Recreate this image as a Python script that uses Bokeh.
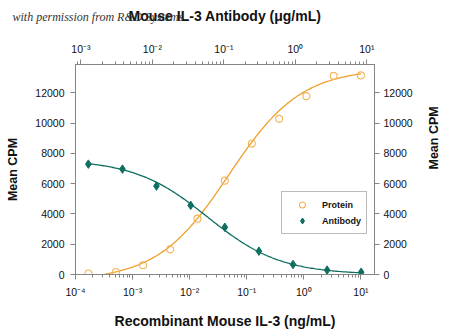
import math
import numpy as np
from bokeh.plotting import figure
from bokeh.models import (Range1d, LinearAxis, LogAxis, FixedTicker, CustomJSTickFormatter,
                          Legend, LegendItem, LogScale)
from bokeh.embed import file_html
from bokeh.resources import INLINE

# ---------------- data ----------------
protein_conc = [0.000169, 0.000508, 0.00152, 0.00457, 0.0137, 0.0412, 0.123, 0.370, 1.11, 3.33, 10.0]  # ng/mL
protein_cpm = [70, 170, 610, 1660, 3690, 6200, 8650, 10280, 11780, 13120, 13150]

antibody_conc = [0.00127, 0.00381, 0.0114, 0.0343, 0.103, 0.309, 0.926, 2.78, 8.33]  # ug/mL
antibody_cpm = [7290, 6960, 5840, 4570, 3120, 1540, 660, 290, 150]

# 4-parameter logistic fit parameters (estimated from the drawn curves)
protein_fit = dict(bottom=-400, top=13600, log_ec50=-1.31, hill=0.69)
antibody_fit = dict(bottom=0, top=7600, log_ec50=-1.23, hill=-0.85)

bottom_ticks = [1e-4, 1e-3, 1e-2, 1e-1, 1e0, 1e1]
top_ticks = [1e-3, 1e-2, 1e-1, 1e0, 1e1]
y_ticks = [0, 2000, 4000, 6000, 8000, 10000, 12000]

title_text = "Mouse IL-3 Antibody (μg/mL)"
x_label = "Recombinant Mouse IL-3 (ng/mL)"
y_label = "Mean CPM"
watermark = "with permission from R&D Systems"

ORANGE = "#EE9F2C"
ORANGE_PT = "#F4B458"
TEAL = "#0E6F61"
AXIS = "#858585"
FONT = "Liberation Sans"

X_LO, X_HI = 1e-4, 10 ** 1.238
Y_LO, Y_HI = 0, 13870


def four_pl(logx, bottom, top, log_ec50, hill):
    return bottom + (top - bottom) / (1.0 + 10 ** (hill * (log_ec50 - logx)))


def minor(lo, hi):
    return [m * 10.0 ** k for k in range(lo, hi) for m in range(2, 10)]


# ---------------- figure ----------------
p = figure(width=450, height=336, x_axis_type="log",
           x_range=Range1d(X_LO, X_HI), y_range=Range1d(Y_LO, Y_HI),
           output_backend="svg", toolbar_location=None,
           min_border_left=75, min_border_right=74, min_border_top=64, min_border_bottom=62,
           background_fill_color="white", border_fill_color="white")
p.grid.visible = False
p.outline_line_color = AXIS
p.outline_line_width = 1

p.extra_x_ranges = {"top": Range1d(10 ** -3.076, 10 ** 1.107)}
p.extra_x_scales = {"top": LogScale()}

sup_code = """
const e = Math.round(Math.log10(tick));
const sup = {'-':'\u207b','0':'\u2070','1':'\u00b9','2':'\u00b2','3':'\u00b3','4':'\u2074',
             '5':'\u2075','6':'\u2076','7':'\u2077','8':'\u2078','9':'\u2079'};
return '10' + String(e).split('').map(c => sup[c]).join('');
"""


def style_axis(ax):
    ax.axis_line_color = AXIS
    ax.major_tick_line_color = AXIS
    ax.minor_tick_line_color = AXIS
    ax.major_tick_in = 0
    ax.major_tick_out = 5
    ax.minor_tick_in = 0
    ax.minor_tick_out = 3
    ax.major_label_text_font = FONT
    ax.major_label_text_font_size = "10.5px"
    ax.major_label_text_color = "#111111"
    ax.axis_label_text_font = FONT
    ax.axis_label_text_font_style = "bold"
    ax.axis_label_text_font_size = "14px"
    ax.axis_label_text_color = "#111111"


# bottom axis
bx = p.xaxis[0]
style_axis(bx)
bx.ticker = FixedTicker(ticks=bottom_ticks, minor_ticks=minor(-4, 1))
bx.formatter = CustomJSTickFormatter(code=sup_code)
bx.axis_label = x_label
bx.major_label_standoff = 6
bx.axis_label_standoff = 12

# left axis
ly = p.yaxis[0]
style_axis(ly)
ly.ticker = FixedTicker(ticks=y_ticks)
ly.minor_tick_line_color = None
ly.axis_label = y_label
ly.axis_label_text_font_size = "12.5px"
ly.major_label_standoff = 6
ly.axis_label_standoff = 12

# right axis (label reads bottom-to-top like the left one)
ry = LinearAxis(ticker=FixedTicker(ticks=y_ticks), axis_label=y_label)
style_axis(ry)
ry.minor_tick_line_color = None
ry.axis_label_text_font_size = "12.5px"
ry.major_label_standoff = 4
ry.axis_label_standoff = 18
ry.axis_label_orientation = math.pi / 2
p.add_layout(ry, "right")

# top axis
tx = LogAxis(x_range_name="top", ticker=FixedTicker(ticks=top_ticks, minor_ticks=minor(-4, 2)),
             formatter=CustomJSTickFormatter(code=sup_code), axis_label=title_text)
style_axis(tx)
tx.major_label_standoff = 5
tx.axis_label_standoff = 16
p.add_layout(tx, "above")

# watermark as the plot title, pulled down onto the title line
p.title.text = watermark
p.title.align = "left"
p.title.offset = -63
p.title.vertical_align = "bottom"
p.title.standoff = -39
p.title.text_font = "Liberation Serif"
p.title.text_font_style = "italic"
p.title.text_font_size = "12px"
p.title.text_color = "#333333"

# ---------------- curves ----------------
lp = np.linspace(np.log10(protein_conc[0]), np.log10(protein_conc[-1]), 200)
p.line(10 ** lp, four_pl(lp, **protein_fit), line_color=ORANGE, line_width=1.3)

la = np.linspace(np.log10(antibody_conc[0]), np.log10(antibody_conc[-1]), 200)
p.line(10 ** la, four_pl(la, **antibody_fit), line_color=TEAL, line_width=1.3, x_range_name="top")

prot_r = p.scatter(protein_conc, protein_cpm, marker="circle", size=7, fill_color=None,
                   line_color=ORANGE_PT, line_width=1.1)
ab_r = p.scatter(antibody_conc, antibody_cpm, marker="diamond", size=8.5, fill_color=TEAL,
                 line_color=TEAL, x_range_name="top")

legend = Legend(items=[LegendItem(label="Protein", renderers=[prot_r]),
                       LegendItem(label="Antibody", renderers=[ab_r])],
                location=(206, 40), padding=5, spacing=1, margin=0,
                glyph_width=30, glyph_height=15, label_height=15, label_standoff=5,
                label_text_font=FONT, label_text_font_style="bold", label_text_font_size="9px",
                label_text_color="#111111",
                border_line_color="#777777", border_line_width=1,
                background_fill_color="white", background_fill_alpha=1)
p.add_layout(legend)

open("out.html", "w").write(file_html(p, INLINE))
